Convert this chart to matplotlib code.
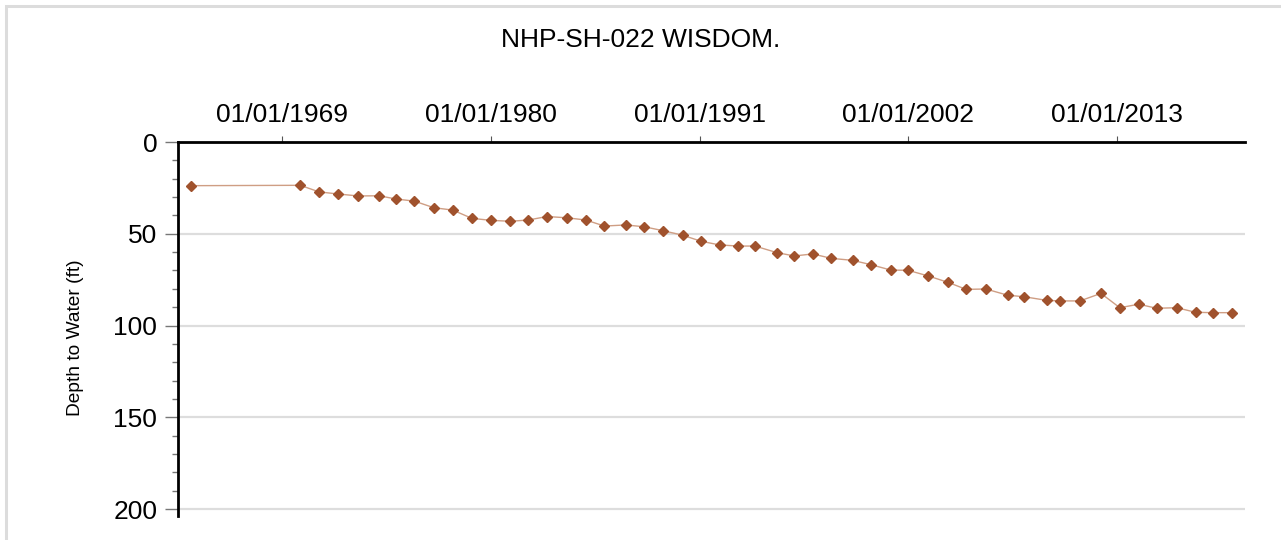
import matplotlib
matplotlib.use("Agg")
import matplotlib.pyplot as plt
import matplotlib.dates as mdates
from matplotlib.patches import Rectangle
from matplotlib.ticker import MultipleLocator
import pandas as pd

# measurement dates and depth to water (ft)
dates = [
    "1964-03-17", "1969-12-15", "1970-12-15", "1971-12-05", "1973-01-01",
    "1974-02-10", "1975-01-08", "1975-12-20", "1976-12-28", "1977-12-28",
    "1979-01-01", "1980-01-05", "1981-01-12", "1981-12-25", "1982-12-16",
    "1984-01-01", "1985-01-01", "1985-12-24", "1987-02-10", "1988-02-03",
    "1989-01-22", "1990-02-10", "1991-01-30", "1992-01-22", "1993-01-15",
    "1993-12-01", "1995-01-30", "1995-12-28", "1996-12-16", "1997-12-10",
    "1999-01-26", "2000-01-18", "2001-01-30", "2001-12-24", "2003-01-18",
    "2004-02-06", "2005-01-15", "2006-01-30", "2007-03-28", "2008-02-03",
    "2009-04-15", "2009-12-20", "2011-01-15", "2012-02-24", "2013-02-20",
    "2014-02-20", "2015-01-30", "2016-02-20", "2017-02-20", "2018-01-15",
    "2019-01-26",
]
depth = [
    23.8, 23.6, 27.2, 28.3, 29.4, 29.3, 31.1, 32.2, 35.8, 37.1,
    41.6, 42.7, 43.2, 42.5, 40.6, 41.3, 42.5, 45.8, 45.2, 46.2,
    48.3, 50.8, 54.1, 56.1, 56.7, 56.7, 60.3, 62.1, 61.0, 63.4,
    64.5, 66.9, 69.8, 69.9, 73.0, 76.5, 80.3, 80.1, 83.5, 84.3,
    86.3, 86.6, 86.6, 82.5, 90.3, 88.4, 90.6, 90.3, 92.8, 93.0,
    93.0,
]
tick_dates = ["1969-01-01", "1980-01-01", "1991-01-01", "2002-01-01", "2013-01-01"]
y_ticks = [0, 50, 100, 150, 200]

plt.rcParams["font.family"] = ["Liberation Sans", "DejaVu Sans"]

fig = plt.figure(figsize=(12.81, 5.40), dpi=100)
ax = fig.add_axes([178 / 1281, 1 - 516 / 540, (1245 - 178) / 1281, (516 - 142) / 540])

# light frame round the whole figure
fig.patches.append(Rectangle((6 / 1281, -0.1), 1.2, 1.1 - 6 / 540,
                             transform=fig.transFigure, fill=False,
                             edgecolor="#dcdcdc", linewidth=2.2))

x = pd.to_datetime(dates)
ax.plot(x, depth, color="#cf9e84", linewidth=1.0, zorder=3)
ax.plot(x, depth, linestyle="none", marker="D", markersize=5.0,
        color="#a0522d", zorder=4)

ax.set_xlim(pd.Timestamp("1963-07-08"), pd.Timestamp("2019-09-27"))
ax.set_ylim(203.8, 0)

ax.xaxis.tick_top()
ax.set_xticks(pd.to_datetime(tick_dates))
ax.xaxis.set_major_formatter(mdates.DateFormatter("%m/%d/%Y"))
ax.tick_params(axis="x", which="major", direction="out", length=4.5,
               width=0.8, color="#555555", pad=6.5, labelsize=19)

ax.set_yticks(y_ticks)
ax.yaxis.set_minor_locator(MultipleLocator(10))
ax.tick_params(axis="y", which="major", direction="out", length=9.5,
               width=1.0, color="#777777", pad=5.5, labelsize=19)
ax.tick_params(axis="y", which="minor", direction="out", length=4.5,
               width=1.0, color="#777777")

ax.grid(axis="y", which="major", color="#dddddd", linewidth=1.6)
ax.set_axisbelow(True)

for side in ("right", "bottom"):
    ax.spines[side].set_visible(False)
for side in ("top", "left"):
    ax.spines[side].set_linewidth(2.0)
    ax.spines[side].set_color("black")

ax.set_ylabel("Depth to Water (ft)", fontsize=13.8)
ax.yaxis.set_label_coords(-0.088, 0.476)
fig.text(0.5, 1 - 40 / 540, "NHP-SH-022 WISDOM.", ha="center", va="center",
         fontsize=19)

fig.savefig("out.png", dpi=100)
